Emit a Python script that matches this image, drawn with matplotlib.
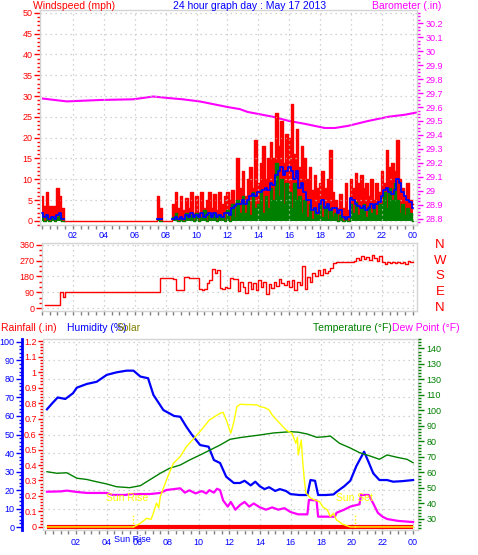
import numpy as np
import matplotlib
matplotlib.use('Agg')
import matplotlib.pyplot as plt
import matplotlib.transforms as mtransforms
from matplotlib.ticker import MultipleLocator, FixedLocator, FuncFormatter

plt.rcParams['font.family'] = ['Liberation Sans', 'DejaVu Sans']

N = np.nan

# wind, 10 minute samples from 00:00 (mph)
gust = ([6, 3.5, 7, 3.5, 3.5, 3.5] +
        [8, 6, 3, 0, 0, 0] +
        [0] * 30 +
        [0, 0, 0, 6, 3, 0] +
        [0, 0, 0, 4, 7, 3] +
        [6, 2.5, 5.5, 3, 7, 2] +
        [6, 2, 7, 3, 5, 7] +
        [3, 6.5, 2.5, 7, 4, 6] +
        [7, 5, 7.5, 4, 15, 8] +
        [12, 6, 10, 13, 8, 19.5] +
        [9, 14, 18, 10, 15, 19] +
        [15, 26, 18, 24, 14, 21] +
        [20, 28, 16, 22, 13, 18] +
        [15, 10, 13, 7.5, 11, 8] +
        [9, 12, 8, 10, 17, 7] +
        [5, 3, 6.5, 3, 9, 2.5] +
        [10, 8, 11.5, 9, 11, 8] +
        [9, 6, 10, 5, 9, 7] +
        [12, 9, 17, 13, 14, 12] +
        [19.5, 10, 8, 6, 9, 5] +
        [4])

avg = ([2, 1, 1.5, 0.5, 1, 0.5] +
       [1.5, 1.8, 0.5, N, N, N] +
       [N] * 30 +
       [N, N, N, 0.5, 0.5, N] +
       [N, N, N, 0.5, 1, 0.5] +
       [1, 0.5, 1.5, 1, 2, 1] +
       [1.5, 1, 2, 1, 1.5, 2] +
       [1, 2, 1, 1.5, 1, 2] +
       [2, 1.5, 3, 3.5, 4, 4] +
       [5, 4, 5, 6, 6.5, 6] +
       [7, 7, 7.5, 8, 7.5, 9] +
       [8.5, 11, 12, 13, 11, 12] +
       [13, 12, 10, 12, 8, 9] +
       [7, 5, 5, 2.5, 3, 2] +
       [4, 5, 3, 4, 2.5, 3] +
       [3, 2, 2.5, 1, 0.5, 1] +
       [5.5, 5, 4, 3.5, 3, 3.5] +
       [2.5, 3, 4, 3, 4, 4.5] +
       [6, 7.5, 8, 7, 6.5, 7.5] +
       [10, 9, 7, 6, 5, 4.5] +
       [3])

speed = ([2, 0, 1.5, 0, 1, 0] +
         [1, 1.5, 0, N, N, N] +
         [N] * 30 +
         [N, N, N, 0.5, 0, N] +
         [N, N, N, 1, 2, 0] +
         [1, 0, 2, 0.5, 1.5, 0] +
         [2, 0, 1, 2.5, 0, 1.5] +
         [0.5, 2, 0, 1.5, 1, 0] +
         [2.5, 0, 4, 1, 5, 2] +
         [6, 2, 5, 1.5, 7, 3] +
         [4, 7.5, 2, 6, 3, 8] +
         [5, 14, 6, 10, 4, 9] +
         [7, 3, 9, 5, 6, 2] +
         [5, 1, 4, 0.5, 3, 1.5] +
         [4, 1, 3.5, 0.5, 3, 1] +
         [2, 0, 1.5, 0, 1, 0] +
         [4, 2, 4.5, 1.5, 3, 4] +
         [1, 3.5, 2, 4, 1.5, 4] +
         [4, 7, 3, 8, 5, 9] +
         [5, 2, 4, 1.5, 3, 2] +
         [0])

# wind direction, 10 minute samples (degrees)
direction = ([N, 20, 20, 20, 20, 20] +
             [20, 90, 65, 90, 90, 90] +
             [90] * 30 +
             [90, 90, 90, 90, 170, 170] +
             [170, 170, 170, 165, 100, 100] +
             [100, 175, 175, 172, 170, 172] +
             [172, 108, 105, 110, 145, 160] +
             [225, 200, 215, 115, 110, 120] +
             [115, 170, 168, 165, 95, 150] +
             [120, 85, 150, 110, 140, 100] +
             [160, 120, 150, 80, 135, 115] +
             [150, 125, 165, 140, 130, 155] +
             [120, 160, 105, 150, 130, 240] +
             [110, 175, 150, 200, 185, 215] +
             [190, 225, 200, 210, 230, 255] +
             [262, 265, 262, 262, 260, 260] +
             [260, 270, 285, 275, 295, 280] +
             [290, 275, 300, 285, 270, 295] +
             [260, 250, 265, 255, 262, 258] +
             [265, 255, 262, 250, 268, 262] +
             [265])

t10 = np.arange(len(gust)) / 6.0

# barometer (in)
baro_t = [0.06, 1.6, 3.75, 5.9, 7.2, 8.1, 9.1, 10.2, 12.0, 12.8, 13.3, 14.95,
          16.0, 17.0, 18.3, 18.95, 19.8, 21.1, 22.4, 23.5, 24.2]
baro = [29.66, 29.64, 29.65, 29.655, 29.675, 29.665, 29.655, 29.64, 29.60,
        29.585, 29.565, 29.53, 29.50, 29.48, 29.45, 29.45, 29.465, 29.50,
        29.53, 29.545, 29.56]

# humidity (%)
hum_t = [0.1, 0.45, 0.8, 1.3, 1.8, 2.05, 2.7, 3.35, 4.0, 4.65, 5.3, 5.75,
         6.2, 6.7, 7.05, 7.7, 8.1, 8.4, 8.8, 9.2, 9.55, 10.1, 10.65, 11.0,
         11.4, 11.8, 12.3, 12.7, 13.0, 13.4, 13.7, 14.0, 14.3, 14.6, 15.0,
         15.3, 15.7, 16.0, 16.6, 17.1, 17.3, 17.6, 17.8, 18.3, 18.8, 19.0,
         19.5, 19.9, 20.3, 20.8, 21.1, 21.4, 21.8, 22.3, 22.7, 23.3, 24.0]
hum = [63.6, 66.9, 70, 69.2, 72.3, 75.3, 77.3, 78.5, 82.2, 83.6, 84.5, 84.5,
       81.3, 80.4, 71.4, 63.2, 61.4, 60, 59.6, 54.2, 50, 44.3, 43.4, 36.2,
       34.6, 27.2, 23.8, 23.8, 25, 22.5, 24.5, 22, 20.5, 21.5, 19.5, 20.5,
       19.5, 17.8, 17.3, 17.3, 25.4, 25, 17.3, 17.3, 17.6, 19, 22, 25, 33,
       40.7, 35, 29, 25.4, 25.4, 24.5, 24.8, 25.4]

# temperature (F)
temp_t = [0.1, 0.75, 1.4, 2.05, 2.7, 3.35, 4.0, 4.65, 5.5, 6.2, 6.8, 7.5,
          8.1, 8.8, 9.4, 10.1, 10.75, 11.4, 12.05, 12.7, 14.0, 14.9, 16.0,
          16.5, 17.1, 17.7, 18.2, 18.6, 19.2, 19.9, 20.5, 21.2, 21.8, 22.3,
          22.95, 23.6, 24.0]
temp = [60.5, 59.5, 59.8, 56.3, 55.5, 54, 52.6, 50.8, 50.2, 51.5, 55.2, 59.5,
        62.7, 64.8, 68, 71.3, 74.5, 77.7, 81.4, 82.5, 84.2, 85.5, 86.3, 86,
        84.8, 82.7, 83, 83.5, 78.8, 75.8, 72.8, 70.6, 68.5, 71.3, 69.8, 68.5,
        66.3]

# dew point (F)
dew_t = [0.1, 1.0, 1.4, 2.0, 2.7, 4.0, 4.4, 5.2, 5.6, 6.8, 7.5, 7.9, 8.8,
         9.1, 9.4, 9.8, 10.2, 10.5, 10.7, 11.0, 11.2, 11.4, 11.6, 11.9, 12.1,
         12.4, 12.7, 13.0, 13.3, 13.6, 14.0, 14.4, 14.8, 15.2, 15.6, 16.0,
         16.5, 17.1, 17.2, 17.7, 17.8, 18.9, 19.0, 19.5, 19.9, 20.5, 20.6,
         21.1, 21.4, 21.7, 22.0, 22.3, 23.0, 24.0]
dew = [47.6, 47.8, 48.3, 47.5, 46.8, 46.8, 45.5, 45.5, 46.1, 46.1, 46.8,
       48.7, 49.8, 47, 48.5, 46.5, 48, 46.5, 48.6, 47, 49.5, 48.6, 42, 38,
       41, 36, 39, 41, 38, 40, 37.5, 36, 37.5, 36, 37, 34.5, 33, 33, 42.3,
       42, 31.5, 31.5, 34, 36, 38, 39.5, 45.5, 45.5, 40, 34, 31.5, 30, 28.8,
       28]

# solar (W/m2)
sol_t = [0.1, 5.75, 6.2, 6.6, 6.9, 7.05, 7.25, 7.4, 7.5, 7.9, 8.35, 8.8,
         9.2, 10.1, 10.7, 11.4, 11.6, 11.85, 12.1, 12.3, 12.5, 12.7, 13.8,
         14.0, 14.3, 14.6, 14.8, 15.2, 15.7, 16.1, 16.35, 16.45, 16.5, 16.7,
         16.8, 16.9, 17.0, 17.3, 17.6, 17.9, 18.1, 18.4, 18.6, 18.8, 19.0,
         19.4, 19.9, 24.0]
solar = [0, 0, 19, 45, 40, 73, 125, 100, 159, 246, 333, 368, 420, 500, 560,
         595, 600, 551, 490, 551, 630, 642, 639, 630, 625, 613, 586, 551, 508,
         490, 438, 470, 377, 455, 335, 246, 178, 152, 141, 132, 106, 89, 54,
         72, 37, 14, 0, 0]

rain_t = [0.1, 24.0]
rain = [0, 0]

sunrise, sunset = 5.73, 20.2

hour_ticks = np.arange(2, 25, 2)
hour_labels = ['%02d' % (h % 24) for h in hour_ticks]
temp_ticks = [30, 40, 50, 60, 70, 80, 90, 100, 110, 120, 130, 140]
temp_labels = ['30', '40', '50', '60', '70', '80', '90', '100', '110',
               '130', '130', '140']
compass = ['N', 'E', 'S', 'W', 'N']

W, H = 478.0, 555.0
GRAY = '#d4d4d4'
GRID = dict(color='#c4c4c4', linestyle=(0, (1, 3)), linewidth=0.9)
TICKFS = 6.5


def rect(l, t, r, b):
    return [l / W, 1 - b / H, (r - l) / W, (b - t) / H]


def hours_axis(ax, labels):
    ax.set_xticks(hour_ticks)
    ax.xaxis.set_minor_locator(MultipleLocator(0.5))
    if labels:
        ax.set_xticklabels(hour_labels)
    ax.tick_params(axis='x', which='both', direction='out', length=3,
                   width=1, color='#808080', labelcolor='blue',
                   labelsize=TICKFS, pad=1.5, labelbottom=labels)
    ax.xaxis.grid(True, **GRID)


def frame(ax, color=GRAY):
    for s in ax.spines.values():
        s.set_color(color)
        s.set_linewidth(1)


fig = plt.figure(figsize=(W / 100, H / 100), dpi=100)

# ---------------- wind / barometer ----------------
axW = fig.add_axes(rect(40, 10, 417, 225))
axP = axW.twinx()
axW.set_zorder(2)
axP.set_zorder(1)
axW.patch.set_visible(False)

axW.set_xlim(-0.13, 24.27)
axW.set_ylim(-1, 50.7)
axP.set_ylim(28.757, 30.293)

g = np.array(gust, dtype=float)
s = np.array(speed, dtype=float)
axW.fill_between(t10, 0, g, step='mid', color='red', lw=0)
axW.step(t10, g, where='mid', color='red', lw=1)
axW.fill_between(t10, 0, np.nan_to_num(s), where=~np.isnan(s), step='mid',
                 color='green', lw=0)
axW.step(t10, s, where='mid', color='green', lw=1)
axW.step(t10, avg, where='mid', color='blue', lw=1.3)
axP.plot(baro_t, baro, color='magenta', lw=1.5)

hours_axis(axW, True)
axW.yaxis.set_major_locator(MultipleLocator(5))
axW.yaxis.set_minor_locator(MultipleLocator(1))
axW.tick_params(axis='y', which='both', color='red', labelcolor='red',
                labelsize=TICKFS, width=1, pad=1.5)
axW.tick_params(axis='y', which='major', length=4)
axW.tick_params(axis='y', which='minor', length=2)
axW.yaxis.grid(True, **GRID)
frame(axW)
for sp in axP.spines.values():
    sp.set_visible(False)
axP.yaxis.set_major_locator(FixedLocator(np.round(np.arange(28.8, 30.21, 0.1), 1)))
axP.yaxis.set_minor_locator(MultipleLocator(0.025))
axP.yaxis.set_major_formatter(FuncFormatter(lambda v, p: '%g' % round(v, 1)))
axP.tick_params(axis='y', which='both', color='magenta', labelcolor='magenta',
                labelsize=TICKFS, width=1, pad=2)
axP.tick_params(axis='y', which='major', length=4)
axP.tick_params(axis='y', which='minor', length=2)

fig.text(33 / W, 1 - 6 / H, 'Windspeed (mph)', color='red', fontsize=7.5,
         ha='left', va='center')
fig.text(250 / W, 1 - 6 / H, '24 hour graph day : May 17 2013', color='blue',
         fontsize=7.5, ha='center', va='center')
fig.text(372 / W, 1 - 6 / H, 'Barometer (.in)', color='magenta',
         fontsize=7.5, ha='left', va='center')

# ---------------- wind direction ----------------
axD = fig.add_axes(rect(42, 243, 417, 311))
axD.set_xlim(0, 24.27)
axD.set_ylim(-17, 371)
axD.step(t10, direction, where='post', color='red', lw=1)
hours_axis(axD, False)
axD.set_yticks([0, 90, 180, 270, 360])
axD.yaxis.set_minor_locator(MultipleLocator(30))
axD.tick_params(axis='y', which='both', color='red', labelcolor='red',
                labelsize=TICKFS, width=1, pad=1.5)
axD.tick_params(axis='y', which='major', length=4)
axD.tick_params(axis='y', which='minor', length=2)
axD.yaxis.grid(True, **GRID)
frame(axD)
trD = mtransforms.blended_transform_factory(axD.transAxes, axD.transData)
for deg, lab in zip([0, 90, 180, 270, 360], compass):
    axD.text(1.061, deg, lab, transform=trD, color='red', fontsize=9.5,
             ha='center', va='center', clip_on=False)

# ---------------- rain / humidity / solar / temperature ----------------
axH = fig.add_axes(rect(43, 339, 418, 530))
axR = axH.twinx()
axT = axH.twinx()
axS = axH.twinx()

xl = (-0.157, 24.32)
for ax in (axH, axR, axT, axS):
    ax.set_xlim(*xl)
axH.set_ylim(-1.6, 101.6)
axR.set_ylim(-0.0194, 1.213)
axT.set_ylim(22.9, 146.1)
axS.set_ylim(-16, 984)

axR.plot(rain_t, rain, color='red', lw=3, solid_capstyle='butt')
axH.plot(hum_t, hum, color='blue', lw=1.6)
axT.plot(temp_t, temp, color='green', lw=1)
axT.plot(dew_t, dew, color='magenta', lw=1.6)
axS.plot(sol_t, solar, color='yellow', lw=1)
axS.vlines([sunrise, sunset], 0, 75, colors='yellow', linestyles=(0, (1, 1.5)),
           lw=1)
axS.text(5.35, 150, 'Sun Rise', color='yellow', fontsize=7.5, ha='center',
         va='center')
axS.text(sunset, 150, 'Sun Set', color='yellow', fontsize=7.5, ha='center',
         va='center')

hours_axis(axH, True)
axH.tick_params(axis='x', pad=3)
for ax in (axR, axT, axS):
    ax.tick_params(axis='x', which='both', bottom=False, labelbottom=False)

frame(axH)
axH.spines['left'].set_position(('outward', 15))
axH.spines['left'].set_color('blue')
axH.spines['left'].set_linewidth(2)
axH.yaxis.set_minor_locator(MultipleLocator(2))
axH.set_yticks(np.arange(0, 101, 10))
axH.tick_params(axis='y', which='both', color='blue', labelcolor='blue',
                labelsize=TICKFS, width=1, pad=1.5)
axH.tick_params(axis='y', which='major', length=4)
axH.tick_params(axis='y', which='minor', length=2.5)
axH.yaxis.grid(True, **GRID)

for sp in axR.spines.values():
    sp.set_visible(False)
axR.spines['left'].set_visible(True)
axR.spines['left'].set_color(GRAY)
axR.yaxis.tick_left()
axR.set_yticks(np.round(np.arange(0, 1.21, 0.1), 1))
axR.yaxis.set_minor_locator(MultipleLocator(0.02))
axR.yaxis.set_major_formatter(FuncFormatter(lambda v, p: '%g' % round(v, 1)))
axR.tick_params(axis='y', which='both', color='red', labelcolor='red',
                labelsize=TICKFS, width=1, pad=1)
axR.tick_params(axis='y', which='major', length=3.5)
axR.tick_params(axis='y', which='minor', length=2.5)

for sp in axT.spines.values():
    sp.set_visible(False)
axT.set_yticks(temp_ticks)
axT.set_yticklabels(temp_labels)
axT.yaxis.set_minor_locator(MultipleLocator(2))
axT.tick_params(axis='y', which='both', color='green', labelcolor='green',
                labelsize=TICKFS, width=1, pad=2)
axT.tick_params(axis='y', which='major', length=4)
axT.tick_params(axis='y', which='minor', length=2)

for sp in axS.spines.values():
    sp.set_visible(False)
axS.set_yticks([])

fig.text(132 / W, 1 - 540 / H, 'Sun Rise', color='blue', fontsize=TICKFS,
         ha='center', va='center')

fig.text(1 / W, 1 - 328 / H, 'Rainfall (.in)', color='red', fontsize=7.5,
         ha='left', va='center')
fig.text(67 / W, 1 - 328 / H, 'Humidity (%)', color='blue', fontsize=7.5,
         ha='left', va='center')
fig.text(117 / W, 1 - 328 / H, 'Solar', color='#808000', fontsize=7.5,
         ha='left', va='center')
fig.text(313 / W, 1 - 328 / H, 'Temperature (\u00b0F)', color='green',
         fontsize=7.5, ha='left', va='center')
fig.text(392 / W, 1 - 328 / H, 'Dew Point (\u00b0F)', color='magenta',
         fontsize=7.5, ha='left', va='center')

fig.savefig('out.png', dpi=100)
